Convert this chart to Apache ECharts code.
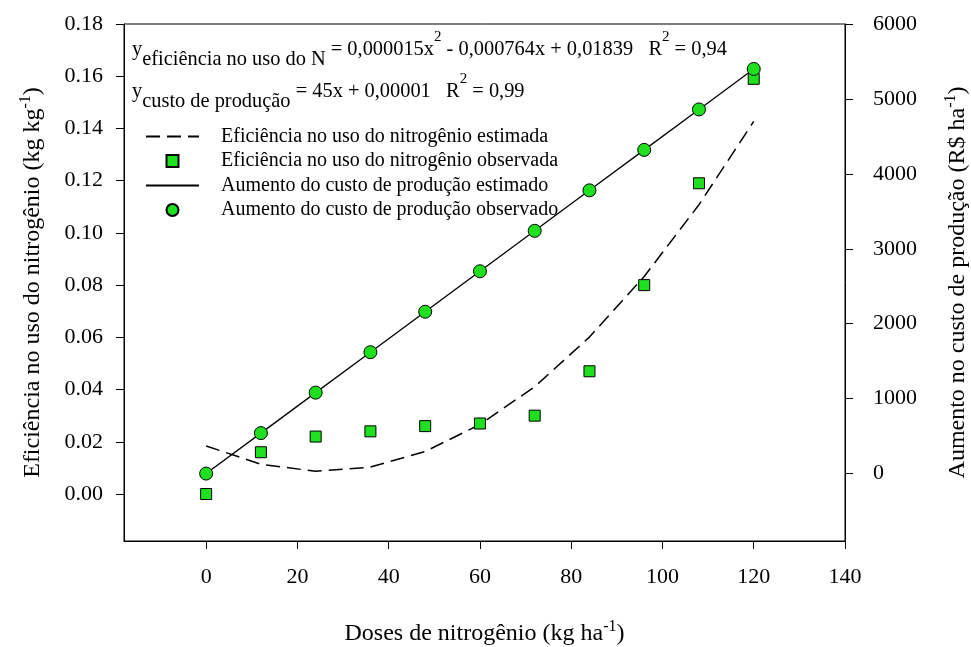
<!DOCTYPE html>
<html><head><meta charset="utf-8">
<script src="https://cdn.jsdelivr.net/npm/echarts@6/dist/echarts.min.js"></script>
<style>html,body{margin:0;padding:0;background:#fff}#c{width:971px;height:647px}</style>
</head><body><div id="c"></div>
<script>
const doses = [0, 12, 24, 36, 48, 60, 72, 84, 96, 108, 120];
const eficienciaObservada = [0.000, 0.016, 0.022, 0.024, 0.026, 0.027, 0.030, 0.047, 0.080, 0.119, 0.159];
const eficienciaEstimada = [0.0184, 0.0114, 0.0087, 0.0103, 0.0163, 0.0266, 0.0411, 0.0601, 0.0833, 0.1108, 0.1427];
const custoObservado = [0, 540, 1080, 1620, 2160, 2700, 3240, 3780, 4320, 4860, 5400];
const custoEstimado = [0, 540, 1080, 1620, 2160, 2700, 3240, 3780, 4320, 4860, 5400];
const xTicks = [0, 20, 40, 60, 80, 100, 120, 140];
const yLeftTicks = [0, 0.02, 0.04, 0.06, 0.08, 0.10, 0.12, 0.14, 0.16, 0.18];
const yRightTicks = [0, 1000, 2000, 3000, 4000, 5000, 6000];
const seriesNames = [
  'Eficiência no uso do nitrogênio estimada',
  'Eficiência no uso do nitrogênio observada',
  'Aumento do custo de produção estimado',
  'Aumento do custo de produção observado'
];
const equacaoEficiencia = '{y|y}{s|eficiência no uso do N}{b| = 0,000015x}{p|2}{b| - 0,000764x + 0,01839   R}{p|2}{b| = 0,94}';
const equacaoCusto = '{y|y}{s|custo de produção}{b| = 45x + 0,00001   R}{p|2}{b| = 0,99}';

const FONT = "'Liberation Serif', serif";
const GREEN = '#1ee01e';
const pairs = (ys) => doses.map((d, i) => [d, ys[i]]);

const chart = echarts.init(document.getElementById('c'));

function nameStyle() {
  return {
    fontFamily: FONT, fontSize: 24,
    rich: {
      a: {fontFamily: FONT, fontSize: 24, color: '#000', lineHeight: 30, verticalAlign: 'middle'},
      s: {fontFamily: FONT, fontSize: 16, color: '#000', lineHeight: 8, verticalAlign: 'top'}
    }
  };
}
function labelStyle(extra) {
  return Object.assign({fontFamily: FONT, fontSize: 22, color: '#000'}, extra);
}
function eqRich() {
  return {
    y: {fontFamily: FONT, fontSize: 20.4, fill: '#000', lineHeight: 40, verticalAlign: 'middle'},
    b: {fontFamily: FONT, fontSize: 20.4, fill: '#000', lineHeight: 40, verticalAlign: 'middle'},
    s: {fontFamily: FONT, fontSize: 20.4, fill: '#000', lineHeight: 20, verticalAlign: 'bottom'},
    p: {fontFamily: FONT, fontSize: 15, fill: '#000', lineHeight: 33, verticalAlign: 'top'}
  };
}

function buildOption() {
  return {
    animation: false,
    backgroundColor: '#fff',
    textStyle: {fontFamily: FONT, color: '#000'},
    grid: {left: 124, right: 126, top: 24, bottom: 106, show: true, borderColor: '#000', borderWidth: 1, containLabel: false, outerBoundsMode: 'none'},
    xAxis: {
      type: 'value', min: -18, max: 140,
      axisLine: {show: true, onZero: false, lineStyle: {color: '#000', width: 1}},
      splitLine: {show: false},
      axisTick: {show: true, inside: false, length: 8, customValues: xTicks, lineStyle: {color: '#000'}},
      axisLabel: labelStyle({customValues: xTicks, margin: 25, formatter: v => String(v)}),
      name: '{a|Doses de nitrogênio (kg ha}{s|-1}{a|)}',
      nameLocation: 'middle', nameGap: 78, nameTextStyle: nameStyle()
    },
    yAxis: [
      {
        type: 'value', position: 'left', min: -0.018, max: 0.18,
        axisLine: {show: true, onZero: false, lineStyle: {color: '#000', width: 1}},
        splitLine: {show: false},
        axisTick: {show: true, inside: false, length: 8, customValues: yLeftTicks, lineStyle: {color: '#000'}},
        axisLabel: labelStyle({customValues: yLeftTicks, margin: 21, formatter: v => v.toFixed(2)}),
        name: '{a|Eficiência no uso do nitrogênio (kg kg}{s|-1}{a|)}',
        nameLocation: 'middle', nameRotate: 90, nameGap: 76, nameTextStyle: nameStyle()
      },
      {
        type: 'value', position: 'right', min: -900, max: 6000,
        axisLine: {show: true, onZero: false, lineStyle: {color: '#000', width: 1}},
        splitLine: {show: false},
        axisTick: {show: true, inside: false, length: 8, customValues: yRightTicks, lineStyle: {color: '#000'}},
        axisLabel: labelStyle({customValues: yRightTicks, margin: 28, formatter: v => String(Math.round(v))}),
        name: '{a|Aumento no custo de produção (R$ ha}{s|-1}{a|)}',
        nameLocation: 'middle', nameRotate: 90, nameGap: 98, nameTextStyle: nameStyle()
      }
    ],
    legend: {
      orient: 'vertical', left: 145, top: 126.5, padding: 0,
      itemWidth: 53, itemHeight: 12, itemGap: 4.5,
      selectedMode: false,
      textStyle: {fontFamily: FONT, fontSize: 20, color: '#000', padding: [0, 0, 0, 17]},
      data: [
        {name: seriesNames[0], itemStyle: {opacity: 0}},
        {name: seriesNames[1], icon: 'path://M0,0L10,0L10,10L0,10Z'},
        {name: seriesNames[2], itemStyle: {opacity: 0}},
        {name: seriesNames[3], icon: 'circle'}
      ]
    },
    graphic: [
      {type: 'text', left: 132, top: 30, silent: true,
       style: {text: equacaoEficiencia, rich: eqRich(), fontFamily: FONT, fontSize: 20, fill: '#000'}},
      {type: 'text', left: 132, top: 72, silent: true,
       style: {text: equacaoCusto, rich: eqRich(), fontFamily: FONT, fontSize: 20, fill: '#000'}}
    ],
    series: [
      {name: seriesNames[0], type: 'line', xAxisIndex: 0, yAxisIndex: 0, data: pairs(eficienciaEstimada),
       symbol: 'none', z: 2, lineStyle: {color: '#000', width: 1.5, type: [14, 7]}, itemStyle: {color: '#000'}},
      {name: seriesNames[1], type: 'scatter', xAxisIndex: 0, yAxisIndex: 0, data: pairs(eficienciaObservada),
       symbol: 'rect', symbolSize: 11, z: 4, itemStyle: {color: GREEN, borderColor: '#000', borderWidth: 1, opacity: 1}},
      {name: seriesNames[2], type: 'line', xAxisIndex: 0, yAxisIndex: 1, data: pairs(custoEstimado),
       symbol: 'none', z: 2, lineStyle: {color: '#000', width: 1.3, type: 'solid'}, itemStyle: {color: '#000'}},
      {name: seriesNames[3], type: 'scatter', xAxisIndex: 0, yAxisIndex: 1, data: pairs(custoObservado),
       symbol: 'circle', symbolSize: 13, z: 4, itemStyle: {color: GREEN, borderColor: '#000', borderWidth: 1, opacity: 1}}
    ]
  };
}

chart.setOption(buildOption());
if (document.fonts && document.fonts.load) {
  document.fonts.load("24px 'Liberation Serif'").then(() => { chart.setOption(buildOption(), true); }).catch(() => {});
}
</script>
</body></html>
